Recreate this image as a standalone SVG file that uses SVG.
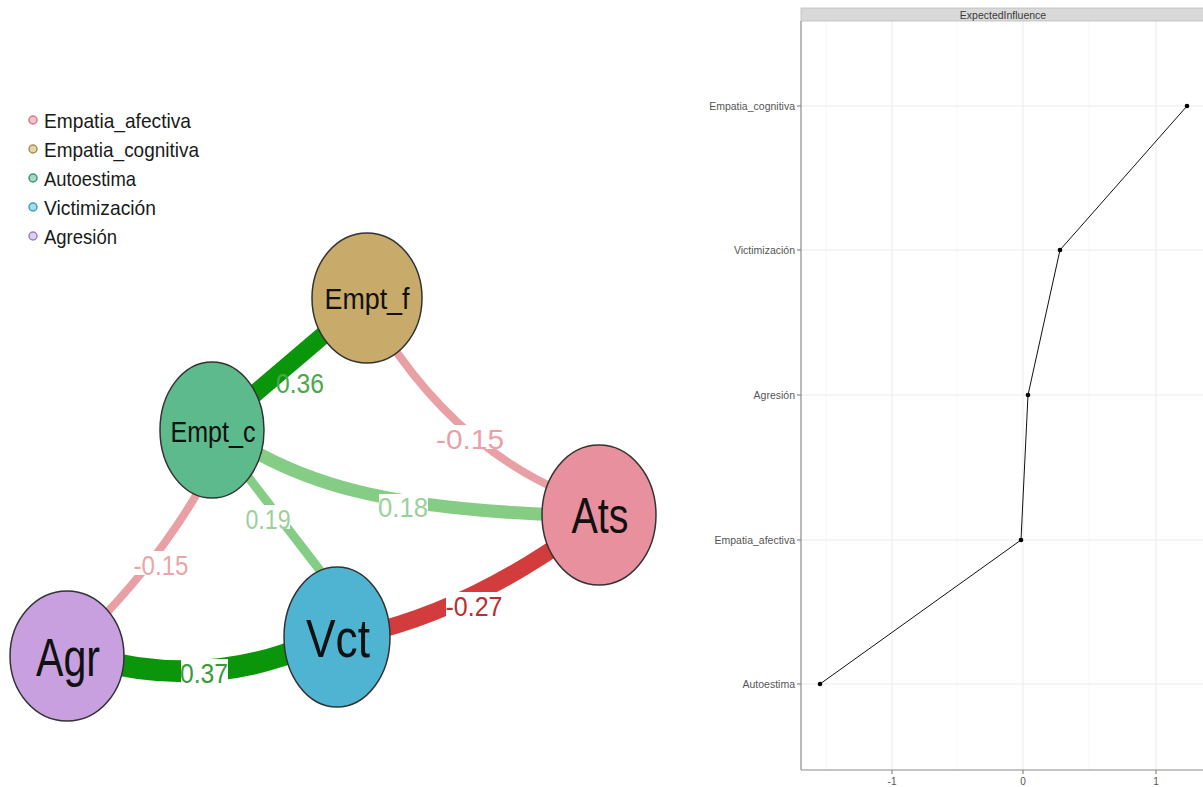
<svg xmlns="http://www.w3.org/2000/svg" width="1203" height="787" viewBox="0 0 1203 787">
<style>
.lt{font-family:"Liberation Sans",Arial,sans-serif;font-size:21px;fill:#1a1a1a}
.ld{stroke-width:1.5}
.node{stroke:#333;stroke-width:1.5}
.nl{font-family:"Liberation Sans",Arial,sans-serif;fill:#111;text-anchor:middle}
.e{fill:none;stroke-linecap:butt}
.el{font-family:"Liberation Sans",Arial,sans-serif;font-size:28px;text-anchor:middle}
.bg{fill:#fff}
.g1{stroke:#ebebeb;stroke-width:1}
.g2{stroke:#f3f3f3;stroke-width:0.7}
.ax{stroke:#8a8a8a;stroke-width:1.2}
.yt{font-family:"Liberation Sans",Arial,sans-serif;font-size:10.5px;fill:#555;text-anchor:end}
.xt{font-family:"Liberation Sans",Arial,sans-serif;font-size:10px;fill:#555;text-anchor:middle}
</style>
<rect width="1203" height="787" fill="#fff"/>

<g id="legend">
<circle class="ld" cx="33" cy="120" r="4" fill="#f3c3cc" stroke="#d9788c"/>
<text class="lt" x="44" y="128" textLength="147" lengthAdjust="spacingAndGlyphs">Empatia_afectiva</text>
<circle class="ld" cx="33" cy="149" r="4" fill="#e3d7a8" stroke="#a89050"/>
<text class="lt" x="44" y="157" textLength="155" lengthAdjust="spacingAndGlyphs">Empatia_cognitiva</text>
<circle class="ld" cx="33" cy="178" r="4" fill="#a8d8bf" stroke="#3a9a70"/>
<text class="lt" x="44" y="186" textLength="92" lengthAdjust="spacingAndGlyphs">Autoestima</text>
<circle class="ld" cx="33" cy="207" r="4" fill="#a8dceb" stroke="#3aa0b8"/>
<text class="lt" x="44" y="215" textLength="112" lengthAdjust="spacingAndGlyphs">Victimización</text>
<circle class="ld" cx="33" cy="236" r="4" fill="#dcd0f0" stroke="#9a80c8"/>
<text class="lt" x="44" y="244" textLength="73" lengthAdjust="spacingAndGlyphs">Agresión</text>
</g>

<g id="connectors">
<path class="e" d="M385,335 Q460,450 570,495" stroke="#e9a0a4" stroke-width="8"/>
<path class="e" d="M205,480 Q160,560 90,630" stroke="#e9a0a4" stroke-width="8"/>
<path class="e" d="M240,443 C300,480 380,510 570,515" stroke="#85cc85" stroke-width="13"/>
<path class="e" d="M232,456 L332,586" stroke="#85cc85" stroke-width="9"/>
<path class="e" d="M212,430 L367,298" stroke="#0a950a" stroke-width="18"/>
<path class="e" d="M90,658 Q205,690 310,645" stroke="#0a950a" stroke-width="22"/>
<path class="e" d="M360,635 Q470,610 580,530" stroke="#d23c3c" stroke-width="17"/>

<rect class="bg" x="437" y="425" width="68" height="24"/>
<text class="el" x="470" y="449" fill="#e9a0a8" textLength="68" lengthAdjust="spacingAndGlyphs">-0.15</text>
<rect class="bg" x="134" y="551" width="54" height="24"/>
<text class="el" x="161" y="575" fill="#eaa6a6" textLength="55" lengthAdjust="spacingAndGlyphs">-0.15</text>
<rect class="bg" x="379" y="494" width="49" height="23"/>
<text class="el" x="403" y="517" fill="#9bd09b" textLength="50" lengthAdjust="spacingAndGlyphs">0.18</text>
<rect class="bg" x="246" y="505" width="44" height="24"/>
<text class="el" x="268" y="529" fill="#9bd09b" textLength="45" lengthAdjust="spacingAndGlyphs">0.19</text>
<text class="el" x="300" y="393" fill="#4aa84a" textLength="48" lengthAdjust="spacingAndGlyphs">0.36</text>
<rect class="bg" x="181" y="659" width="47" height="24"/>
<text class="el" x="204" y="683" fill="#3a9a3a" textLength="48" lengthAdjust="spacingAndGlyphs">0.37</text>
<rect class="bg" x="446" y="592" width="56" height="24"/>
<text class="el" x="474" y="616" fill="#b83030" textLength="57" lengthAdjust="spacingAndGlyphs">-0.27</text>
</g>

<g id="node-Empt_f">
<ellipse class="node" cx="367" cy="298" rx="55" ry="65" fill="#c8aa6a"/>
<text class="nl" x="367" y="309" font-size="30" textLength="85" lengthAdjust="spacingAndGlyphs">Empt_f</text>
</g>
<g id="node-Empt_c">
<ellipse class="node" cx="212" cy="430" rx="52" ry="68" fill="#5dba8c"/>
<text class="nl" x="213" y="442" font-size="29" textLength="85" lengthAdjust="spacingAndGlyphs">Empt_c</text>
</g>
<g id="node-Ats">
<ellipse class="node" cx="599" cy="515" rx="57" ry="70" fill="#e8909e"/>
<text class="nl" x="600" y="533" font-size="50" textLength="57" lengthAdjust="spacingAndGlyphs">Ats</text>
</g>
<g id="node-Agr">
<ellipse class="node" cx="67" cy="656" rx="57" ry="65" fill="#c8a0e0"/>
<text class="nl" x="68" y="676" font-size="54" textLength="64" lengthAdjust="spacingAndGlyphs">Agr</text>
</g>
<g id="node-Vct">
<ellipse class="node" cx="337" cy="637" rx="53" ry="70" fill="#4fb4d2"/>
<text class="nl" x="338" y="657" font-size="54" textLength="64" lengthAdjust="spacingAndGlyphs">Vct</text>
</g>

<g id="plot">
<line class="g2" x1="826" y1="21" x2="826" y2="770"/>
<line class="g2" x1="957" y1="21" x2="957" y2="770"/>
<line class="g2" x1="1089" y1="21" x2="1089" y2="770"/>
<line class="g1" x1="892" y1="21" x2="892" y2="770"/>
<line class="g1" x1="1023" y1="21" x2="1023" y2="770"/>
<line class="g1" x1="1156" y1="21" x2="1156" y2="770"/>
<line class="g1" x1="801" y1="106" x2="1203" y2="106"/>
<line class="g1" x1="801" y1="250" x2="1203" y2="250"/>
<line class="g1" x1="801" y1="395" x2="1203" y2="395"/>
<line class="g1" x1="801" y1="540" x2="1203" y2="540"/>
<line class="g1" x1="801" y1="684" x2="1203" y2="684"/>
<rect x="801" y="8" width="405" height="13" fill="#d9d9d9" stroke="#bcbcbc" stroke-width="0.8"/>
<text x="1003" y="18.5" font-family="'Liberation Sans',Arial,sans-serif" font-size="10.5" fill="#3a3a3a" text-anchor="middle">ExpectedInfluence</text>
<line class="ax" x1="801" y1="21" x2="801" y2="770"/>
<line class="ax" x1="801" y1="770" x2="1203" y2="770"/>
<line class="ax" x1="797" y1="106" x2="801" y2="106"/>
<line class="ax" x1="797" y1="250" x2="801" y2="250"/>
<line class="ax" x1="797" y1="395" x2="801" y2="395"/>
<line class="ax" x1="797" y1="540" x2="801" y2="540"/>
<line class="ax" x1="797" y1="684" x2="801" y2="684"/>
<line class="ax" x1="892" y1="770" x2="892" y2="774"/>
<line class="ax" x1="1023" y1="770" x2="1023" y2="774"/>
<line class="ax" x1="1156" y1="770" x2="1156" y2="774"/>
<text class="yt" x="795" y="110">Empatia_cognitiva</text>
<text class="yt" x="795" y="254">Victimización</text>
<text class="yt" x="795" y="399">Agresión</text>
<text class="yt" x="795" y="544">Empatia_afectiva</text>
<text class="yt" x="795" y="688">Autoestima</text>
<text class="xt" x="892" y="785">-1</text>
<text class="xt" x="1023" y="785">0</text>
<text class="xt" x="1156" y="785">1</text>
<polyline points="1187,106 1060,250 1028,395 1021,540 820,684" fill="none" stroke="#111" stroke-width="1"/>
<circle cx="1187" cy="106" r="2.3" fill="#000"/>
<circle cx="1060" cy="250" r="2.3" fill="#000"/>
<circle cx="1028" cy="395" r="2.3" fill="#000"/>
<circle cx="1021" cy="540" r="2.3" fill="#000"/>
<circle cx="820" cy="684" r="2.3" fill="#000"/>
</g>
</svg>
